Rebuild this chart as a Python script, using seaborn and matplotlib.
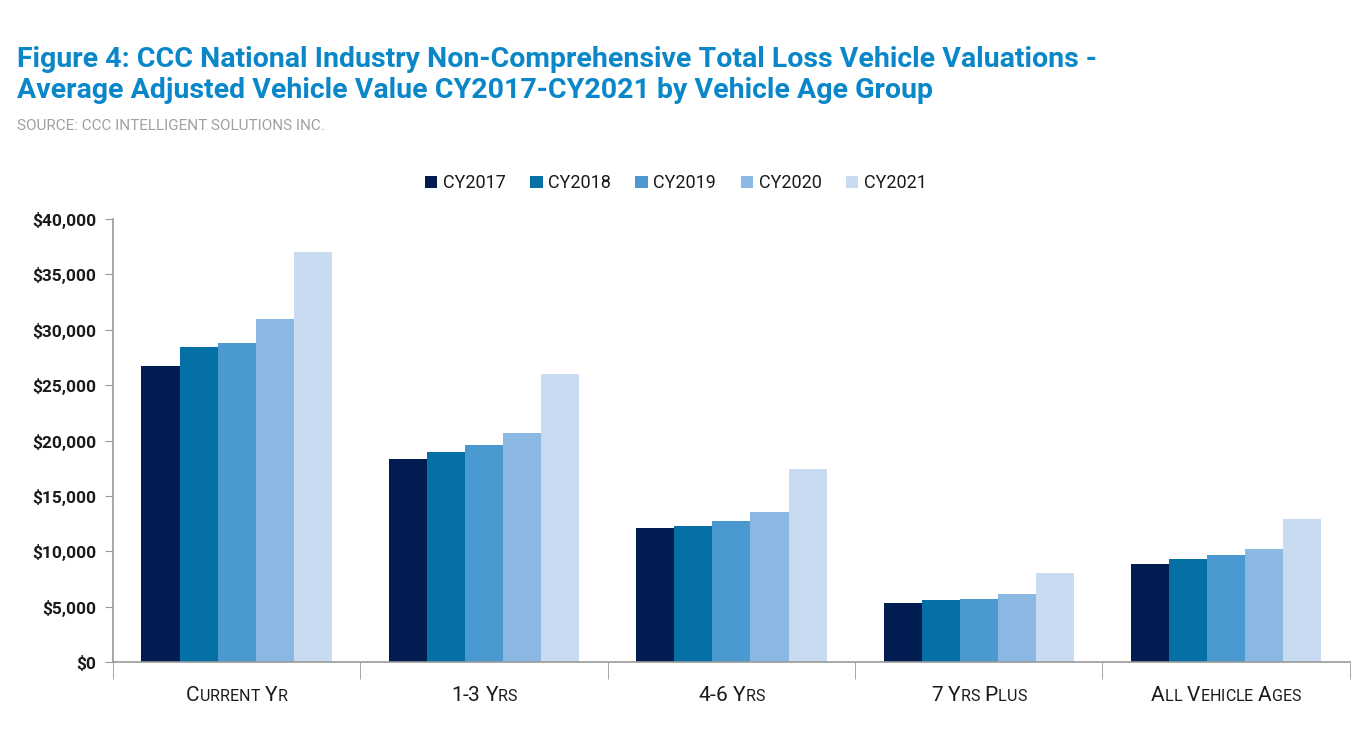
import pandas as pd
import seaborn as sns
import matplotlib.pyplot as plt
from matplotlib.offsetbox import TextArea, HPacker, AnnotationBbox
from matplotlib.ticker import FuncFormatter, FixedLocator

# Dados
grupos = ['Current Yr', '1-3 Yrs', '4-6 Yrs', '7 Yrs Plus', 'All Vehicle Ages']
anos = ['CY2017', 'CY2018', 'CY2019', 'CY2020', 'CY2021']
cy2017 = [26750, 18300, 12100, 5300, 8820]
cy2018 = [28450, 18950, 12250, 5570, 9270]
cy2019 = [28830, 19600, 12770, 5690, 9630]
cy2020 = [30950, 20650, 13520, 6110, 10180]
cy2021 = [37050, 26000, 17450, 8040, 12890]
cores = ['#001c50', '#0570a5', '#4a99d0', '#8bb7e3', '#c9dbf0']

valores = [cy2017, cy2018, cy2019, cy2020, cy2021]
linhas = []
for ano, serie in zip(anos, valores):
    for g, v in zip(grupos, serie):
        linhas.append({'grupo': g, 'ano': ano, 'valor': v})
df = pd.DataFrame(linhas)

sns.set_style('white')
plt.rcParams['font.family'] = ['Roboto', 'DejaVu Sans']

fig = plt.figure(figsize=(13.62, 7.40), dpi=100)
ax = fig.add_axes([0.083, 0.1054, 0.908, 0.5986])

sns.barplot(data=df, x='grupo', y='valor', hue='ano', palette=cores,
            width=0.77, saturation=1, ax=ax, legend=True, errorbar=None,
            linewidth=0)

ax.set_ylim(0, 40000)
ax.set_xlim(-0.5, len(grupos) - 0.5)
ax.set_yticks(range(0, 40001, 5000))
ax.yaxis.set_major_formatter(FuncFormatter(lambda v, p: f'${v:,.0f}'))
for lbl in ax.get_yticklabels():
    lbl.set_fontweight('bold')
    lbl.set_fontsize(12.5)
    lbl.set_color('#1a1a1a')
ax.tick_params(axis='y', length=6, color='#999999', pad=6, left=True)

# ticks nos limites dos grupos
ax.xaxis.set_minor_locator(FixedLocator([i - 0.5 for i in range(len(grupos) + 1)]))
ax.tick_params(axis='x', which='minor', length=12, color='#999999', bottom=True)
ax.tick_params(axis='x', which='major', length=0)
ax.set_xticklabels([])
ax.set_xlabel('')
ax.set_ylabel('')

sns.despine(ax=ax, top=True, right=True)
for s in ['left', 'bottom']:
    ax.spines[s].set_color('#999999')
    ax.spines[s].set_linewidth(1.2)

# rótulos em versalete
def versalete(texto, x):
    partes = []
    for palavra_i, palavra in enumerate(texto.split(' ')):
        if palavra_i > 0:
            partes.append(TextArea(' ', textprops=dict(fontsize=15, color='#1a1a1a')))
        for ch in palavra:
            tam = 11.5 if ch.islower() else 15
            partes.append(TextArea(ch.upper(), textprops=dict(fontsize=tam, color='#1a1a1a')))
    caixa = HPacker(children=partes, align='baseline', pad=0, sep=0)
    ab = AnnotationBbox(caixa, (x, 0), xybox=(x, -0.075), xycoords=('data', 'axes fraction'),
                        boxcoords=('data', 'axes fraction'), frameon=False, box_alignment=(0.5, 0.5))
    ax.add_artist(ab)

for i, g in enumerate(grupos):
    versalete(g, i)

leg = ax.legend(loc='center', bbox_to_anchor=(0.455, 1.081), ncol=5, frameon=False,
                fontsize=13, handlelength=0.7, handleheight=0.7, handletextpad=0.3,
                columnspacing=1.35)
for t in leg.get_texts():
    t.set_color('#1a1a1a')

fig.text(0.0125, 0.938, 'Figure 4: CCC National Industry Non-Comprehensive Total Loss Vehicle Valuations -\n'
         'Average Adjusted Vehicle Value CY2017-CY2021 by Vehicle Age Group',
         fontsize=20.5, fontweight='bold', color='#0a87c8', va='top', ha='left', linespacing=1.2)
fig.text(0.0125, 0.83, 'SOURCE: CCC INTELLIGENT SOLUTIONS INC.', fontsize=11,
         color='#a0a0a0', va='center', ha='left')

fig.savefig('out.png', dpi=100)
